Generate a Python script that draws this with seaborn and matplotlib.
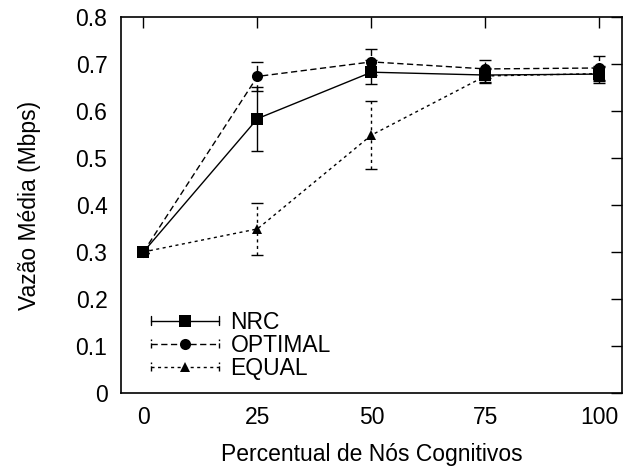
import numpy as np
import pandas as pd
import matplotlib
matplotlib.use("Agg")
import matplotlib.pyplot as plt
from matplotlib.lines import Line2D
from matplotlib.legend_handler import HandlerLine2D
import seaborn as sns

# Percentage of cognitive nodes
percent = [0, 25, 50, 75, 100]

# Mean throughput (Mbps) and error half-widths per scheme
nrc = [0.300, 0.584, 0.683, 0.677, 0.679]
nrc_err = [0.003, 0.068, 0.026, 0.015, 0.018]
optimal = [0.300, 0.674, 0.705, 0.690, 0.692]
optimal_err = [0.003, 0.031, 0.027, 0.020, 0.025]
equal = [0.300, 0.349, 0.549, 0.675, 0.680]
equal_err = [0.003, 0.055, 0.073, 0.015, 0.015]

series_names = ["NRC", "OPTIMAL", "EQUAL"]
x_ticks = [0, 25, 50, 75, 100]
y_ticks = [0, 0.1, 0.2, 0.3, 0.4, 0.5, 0.6, 0.7, 0.8]
y_tick_labels = ["0", "0.1", "0.2", "0.3", "0.4", "0.5", "0.6", "0.7", "0.8"]

df = pd.DataFrame({
    "x": percent * 3,
    "y": nrc + optimal + equal,
    "err": nrc_err + optimal_err + equal_err,
    "series": [s for s in series_names for _ in percent],
})

sns.set_style("white")
plt.rcParams["font.family"] = ["Liberation Sans", "DejaVu Sans"]
plt.rcParams["text.color"] = "black"
plt.rcParams["axes.labelcolor"] = "black"

FS = 16.5

fig = plt.figure(figsize=(6.35, 4.68), dpi=100)
ax = fig.add_axes([0.190, 0.161, 0.790, 0.802])

styles = {
    "NRC": dict(marker="s", ms=8.5, dash=None, z=5),
    "OPTIMAL": dict(marker="o", ms=8.0, dash=(4.5, 2.5), z=4),
    "EQUAL": dict(marker="^", ms=7.5, dash=(2.2, 2.5), z=3),
}

sns.lineplot(
    data=df, x="x", y="y", hue="series", style="series",
    palette={s: "black" for s in series_names},
    markers={s: styles[s]["marker"] for s in series_names},
    dashes={s: (styles[s]["dash"] if styles[s]["dash"] else "") for s in series_names},
    markersize=8, markeredgewidth=0, linewidth=1.0,
    legend=False, ax=ax, sort=False,
)
for line, s in zip(ax.lines, series_names):
    line.set_markersize(styles[s]["ms"])
    line.set_zorder(styles[s]["z"])

# Error bars share each series' line pattern
for s in series_names:
    sub = df[df["series"] == s]
    eb = ax.errorbar(sub["x"], sub["y"], yerr=sub["err"], fmt="none",
                     ecolor="black", elinewidth=1.0, capsize=4, capthick=1.0,
                     zorder=styles[s]["z"] - 0.5)
    if styles[s]["dash"]:
        for col in eb[2]:
            col.set_linestyle((0, styles[s]["dash"]))


class HandlerCapped(HandlerLine2D):
    """Legend entry drawn as a horizontal error bar with end caps."""
    def create_artists(self, legend, orig_handle, xdescent, ydescent,
                       width, height, fontsize, trans):
        artists = super().create_artists(legend, orig_handle, xdescent, ydescent,
                                         width, height, fontsize, trans)
        ymid = height / 2.0 - ydescent
        caps = []
        for xc in (-xdescent, width - xdescent):
            cap = Line2D([xc, xc], [ymid - 3.5, ymid + 3.5], color="black", lw=1.0,
                         linestyle=orig_handle.get_linestyle())
            cap.set_transform(trans)
            caps.append(cap)
        return list(artists) + caps


handles = []
for s in series_names:
    st = styles[s]
    h = Line2D([], [], color="black", lw=1.0, marker=st["marker"],
               ms=st["ms"], mew=0,
               linestyle=(0, st["dash"]) if st["dash"] else "-")
    handles.append(h)

leg = ax.legend(handles, series_names, loc="center left",
                bbox_to_anchor=(0.060, 0.1266), frameon=False,
                borderpad=0, borderaxespad=0,
                handlelength=3.0, handletextpad=0.48, labelspacing=0.0,
                fontsize=FS, numpoints=1,
                handler_map={Line2D: HandlerCapped(numpoints=1)})

ax.set_xlim(-5, 105)
ax.set_ylim(0, 0.8)
ax.set_xticks(x_ticks)
ax.set_xticklabels([str(v) for v in x_ticks])
ax.set_yticks(y_ticks)
ax.set_yticklabels(y_tick_labels)
ax.tick_params(direction="in", length=8, width=1.0, top=True, right=True,
               labelsize=FS, pad=9.5, colors="black")
for sp in ax.spines.values():
    sp.set_visible(True)
    sp.set_color("black")
    sp.set_linewidth(1.2)

ax.set_xlabel("Percentual de Nós Cognitivos", fontsize=FS, labelpad=10.5)
ax.set_ylabel("Vazão Média (Mbps)", fontsize=FS, labelpad=25)

fig.savefig("out.png", dpi=100)
